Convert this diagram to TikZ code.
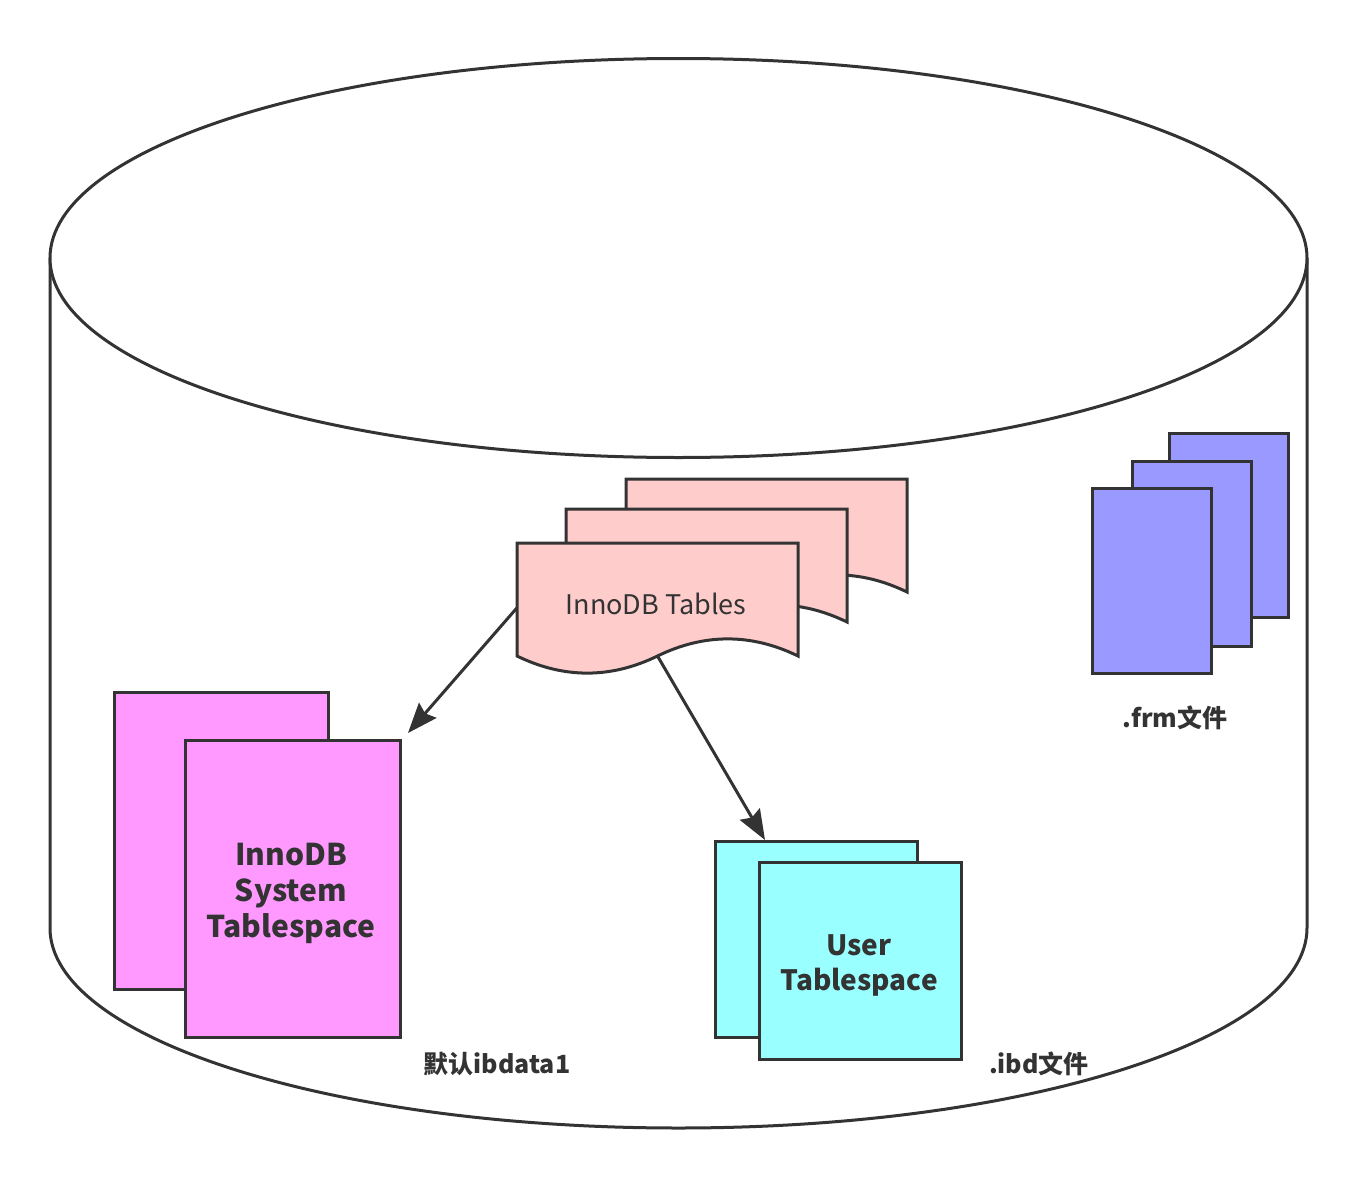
\documentclass[tikz,border=0pt]{standalone}
\usepackage{fontspec}
\setmainfont{Noto Sans CJK SC}
\usetikzlibrary{arrows.meta}
\definecolor{ink}{HTML}{333333}
\definecolor{docpink}{HTML}{FFCCCC}
\definecolor{sysmag}{HTML}{FF99FF}
\definecolor{usercyan}{HTML}{99FFFF}
\definecolor{frmblue}{HTML}{9999FF}
\tikzset{
  outline/.style={draw=ink, line width=3pt},
  filebox/.style={outline, rectangle, inner sep=0pt, minimum width=#1},
  boxtext/.style={text=ink, font=\bfseries\fontsize{30}{36}\selectfont, align=center},
  usertext/.style={text=ink, font=\bfseries\fontsize{28}{35}\selectfont, align=center},
  lbltext/.style={text=ink, font=\bfseries\fontsize{25}{30}\selectfont},
  conn/.style={draw=ink, line width=3pt, -{Stealth[length=30pt,width=23pt,inset=4pt]}},
  tabdoc/.pic={
    \draw[outline, fill=docpink, line join=miter]
      (0,0) -- (281,0) -- (281,113)
      .. controls (234.2,90.2) and (187.3,90.2) .. (140.5,113)
      .. controls (93.7,135.8) and (46.8,135.8) .. (0,113) -- cycle;
  }
}
\begin{document}
\begin{tikzpicture}[x=1pt,y=-1pt]
\useasboundingbox (0,0) rectangle (1358,1178);
% cylinder
\draw[outline, fill=white] (50,258) -- (50,928)
  arc[start angle=180, end angle=0, x radius=628.5, y radius=200] -- (1307,258);
\draw[outline, fill=white] (678.5,258) ellipse [x radius=628.5, y radius=199.5];

% InnoDB Tables documents
\pic at (626,479) {tabdoc};
\pic at (566,509) {tabdoc};
\pic at (517,543) {tabdoc};
\node[minimum width=281pt, minimum height=132pt, inner sep=0pt] (tables) at (657.5,608) {};
\node[text=ink, font=\fontsize{27}{32}\selectfont] (tablestxt) at (656,604) {InnoDB Tables};
\coordinate (wavemid) at (657.5,656);

% .frm files
\node[filebox=119pt, minimum height=184pt, fill=frmblue] (frm3) at (1228.5,525) {};
\node[filebox=119pt, minimum height=185pt, fill=frmblue] (frm2) at (1191.5,553.5) {};
\node[filebox=119pt, minimum height=185pt, fill=frmblue] (frm1) at (1151.5,580.5) {};
\node[lbltext] (frmlbl) at (1175,718) {.frm文件};

% system tablespace
\node[filebox=214pt, minimum height=297pt, fill=sysmag] (sysback) at (221,840.5) {};
\node[filebox=215pt, minimum height=297pt, fill=sysmag] (sys) at (292.5,888.5) {};
\node[boxtext] (systxt) at (291,893) {InnoDB\\System\\Tablespace};
\node[lbltext] (ibdatalbl) at (497,1064) {默认ibdata1};

% user tablespace
\node[filebox=202pt, minimum height=196pt, fill=usercyan] (userback) at (816,939) {};
\node[filebox=202pt, minimum height=197pt, fill=usercyan] (user) at (860,960.5) {};
\node[usertext] (usertxt) at (859,965.5) {User\\Tablespace};
\node[lbltext] (ibdlbl) at (1039,1064) {.ibd文件};

% connectors
\coordinate (sysend) at (408,733);
\coordinate (userend) at (765,840);
\draw[conn] (tables.west) -- (sysend);
\draw[conn] (wavemid) -- (userend);
\end{tikzpicture}
\end{document}
